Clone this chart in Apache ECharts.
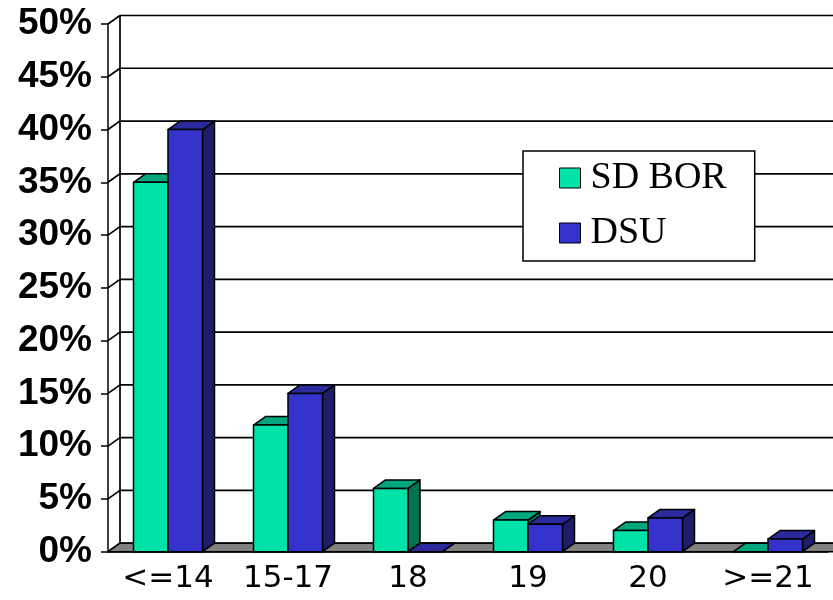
<!DOCTYPE html>
<html>
<head>
<meta charset="utf-8">
<script src="https://cdn.jsdelivr.net/npm/echarts@6/dist/echarts.min.js"></script>
<style>
  html, body { margin: 0; padding: 0; background: #fff; }
  #chart { width: 833px; height: 600px; }
</style>
</head>
<body>
<div id="chart"></div>
<script>
// Age groups and share of students per group (percent)
const categories = ['<=14', '15-17', '18', '19', '20', '>=21'];
const sdBor = [35, 12, 6, 3, 2, 0];
const dsu = [40, 15, 0, 2.6, 3.2, 1.2];
const yTicks = [0, 5, 10, 15, 20, 25, 30, 35, 40, 45, 50];

// Depth offset of the pseudo-3D box (px)
const DX = 12, DY = 8.5;
const BAR_FRACTION = 0.2875;

const palette = {
  green: { front: '#00E3A8', top: '#00A67C', side: '#007352' },
  blue:  { front: '#3333CC', top: '#2A2A9C', side: '#1E1E68' }
};

const edge = { stroke: '#000', lineWidth: 1.5, lineJoin: 'round' };

function poly(points, fill, z2) {
  return { type: 'polygon', shape: { points }, style: Object.assign({ fill }, edge), z2: z2 || 0 };
}

// Back wall grid lines, left-wall connectors and the floor
function renderWalls(params, api) {
  const cs = params.coordSys;
  const v = api.value(1);
  const y = api.coord([0, v])[1];
  const x0 = cs.x, x1 = cs.x + cs.width + 40;
  const children = [
    { type: 'line', shape: { x1: x0 + DX, y1: y - DY, x2: x1 + DX, y2: y - DY },
      style: { stroke: '#000', lineWidth: 1.7 } },
    { type: 'line', shape: { x1: x0, y1: y, x2: x0 + DX, y2: y - DY },
      style: { stroke: '#000', lineWidth: 1.7 } }
  ];
  if (params.dataIndex === 0) {
    const top = api.coord([0, yTicks[yTicks.length - 1]])[1];
    children.push({ type: 'line', shape: { x1: x0 + DX, y1: y - DY, x2: x0 + DX, y2: top - DY },
      style: { stroke: '#000', lineWidth: 1.7 } });
    children.push(poly([[x0, y], [x1, y], [x1 + DX, y - DY], [x0 + DX, y - DY]], '#808080', 5));
  }
  return { type: 'group', children };
}

function makeBarRenderer(side, colors) {
  return function (params, api) {
    const idx = api.value(0);
    const val = api.value(1);
    const top = api.coord([idx, val]);
    const base = api.coord([idx, 0]);
    const bw = api.size([1, 0])[0] * BAR_FRACTION;
    const x0 = top[0] - bw + side * bw;
    const x1 = x0 + bw;
    const yt = top[1], yb = base[1];
    const children = [
      poly([[x1, yt], [x1 + DX, yt - DY], [x1 + DX, yb - DY], [x1, yb]], colors.side),
      poly([[x0, yt], [x0 + DX, yt - DY], [x1 + DX, yt - DY], [x1, yt]], colors.top)
    ];
    if (yb - yt > 0.5) {
      children.push({ type: 'rect', shape: { x: x0, y: yt, width: bw, height: yb - yt },
        style: Object.assign({ fill: colors.front }, edge) });
    }
    return { type: 'group', children };
  };
}

const chart = echarts.init(document.getElementById('chart'), null, { renderer: 'canvas' });

chart.setOption({
  animation: false,
  backgroundColor: '#fff',
  grid: { left: 108, right: 5, top: 24, bottom: 48.3, containLabel: false },
  legend: {
    orient: 'vertical',
    left: 523, top: 151,
    padding: [7, 28, 8, 36],
    itemGap: 15,
    itemWidth: 21, itemHeight: 20,
    icon: 'rect',
    backgroundColor: '#fff',
    borderColor: '#000', borderWidth: 1.5,
    itemStyle: { borderColor: '#000', borderWidth: 1 },
    textStyle: { fontFamily: 'Liberation Serif', fontSize: 38, color: '#000', lineHeight: 40, padding: [0, 0, 0, 5] },
    data: ['SD BOR', 'DSU'],
    z: 10
  },
  xAxis: {
    type: 'category',
    data: categories,
    axisTick: { show: false },
    axisLine: { show: true, lineStyle: { color: '#000', width: 1.5 } },
    axisLabel: { fontFamily: 'DejaVu Sans', fontSize: 31, color: '#000', margin: 12, interval: 0 },
    splitLine: { show: false }
  },
  yAxis: {
    type: 'value',
    min: 0, max: 50, interval: 5,
    axisLine: { show: true, lineStyle: { color: '#000', width: 1.5 } },
    axisTick: { show: true, inside: false, length: 7, lineStyle: { color: '#000', width: 1.5 } },
    axisLabel: { formatter: '{value}%', fontFamily: 'Liberation Sans', fontWeight: 'bold', fontSize: 37, color: '#000', margin: 16 },
    splitLine: { show: false }
  },
  series: [
    {
      name: 'walls',
      type: 'custom',
      renderItem: renderWalls,
      data: yTicks.map(v => [0, v]),
      encode: { x: 0, y: 1 },
      z: 1,
      silent: true
    },
    {
      name: 'SD BOR',
      type: 'custom',
      renderItem: makeBarRenderer(0, palette.green),
      itemStyle: { color: palette.green.front },
      data: sdBor.map((v, i) => [i, v]),
      encode: { x: 0, y: 1 },
      z: 3
    },
    {
      name: 'DSU',
      type: 'custom',
      renderItem: makeBarRenderer(1, palette.blue),
      itemStyle: { color: palette.blue.front },
      data: dsu.map((v, i) => [i, v]),
      encode: { x: 0, y: 1 },
      z: 4
    }
  ]
});
</script>
</body>
</html>
